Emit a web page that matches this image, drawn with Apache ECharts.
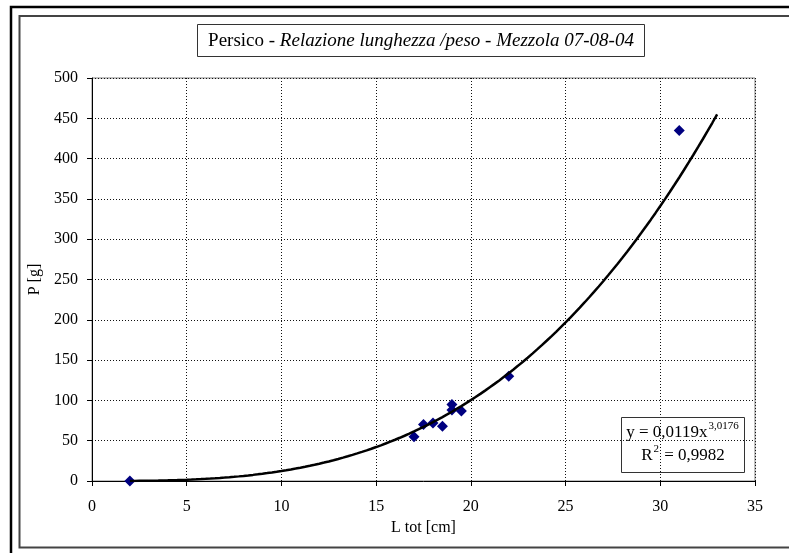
<!DOCTYPE html>
<html>
<head>
<meta charset="utf-8">
<script src="https://cdn.jsdelivr.net/npm/echarts@6/dist/echarts.min.js"></script>
<style>
  html, body { margin: 0; padding: 0; background: #fff; }
  #chart { width: 789px; height: 553px; }
</style>
</head>
<body>
<div id="chart"></div>
<script>
// Measured fish: total length (cm) and weight (g)
const lengths = [2, 17, 17.5, 18, 18.5, 19, 19, 19.5, 22, 31];
const weights = [0, 55, 70, 72, 68, 95, 88, 87, 130, 435];

// Power trend line y = a * x^b, as stated in the equation box
const trendCoef = [0.0119, 3.0176];
const trendRange = [2, 33];
const rSquared = '0,9982';

const xTicks = [0, 5, 10, 15, 20, 25, 30, 35];
const yTicks = [0, 50, 100, 150, 200, 250, 300, 350, 400, 450, 500];

const points = lengths.map((l, i) => [l, weights[i]]);
const trend = [];
for (let x = trendRange[0]; x <= trendRange[1] + 1e-9; x += 0.25) {
  trend.push([x, trendCoef[0] * Math.pow(x, trendCoef[1])]);
}
const fmt = v => String(v).replace('.', ',');

const serif = '"Liberation Serif", "DejaVu Serif", serif';
const dotted = { color: '#111', width: 1, type: [1, 2] };

const eqRich = {
  n: { fontFamily: serif, fontSize: 17, fill: '#000', lineHeight: 20, verticalAlign: 'bottom' },
  s: { fontFamily: serif, fontSize: 11, fill: '#000', lineHeight: 12, verticalAlign: 'top', padding: [0, 1, 0, 1] }
};

const chart = echarts.init(document.getElementById('chart'), null, { renderer: 'canvas' });
chart.setOption({
  animation: false,
  backgroundColor: '#fff',
  textStyle: { fontFamily: serif },
  grid: {
    left: 92, right: 34, top: 78, bottom: 72,
    show: true, borderColor: '#808080', borderWidth: 1, backgroundColor: 'transparent'
  },
  xAxis: {
    type: 'value', min: xTicks[0], max: xTicks[xTicks.length - 1], interval: 5,
    axisLine: { show: true, onZero: false, lineStyle: { color: '#000', width: 1 } },
    axisTick: { show: true, length: 5, lineStyle: { color: '#000' } },
    axisLabel: { color: '#000', fontFamily: serif, fontSize: 16, margin: 18 },
    splitLine: { show: true, lineStyle: dotted },
    name: 'L tot [cm]', nameLocation: 'middle', nameGap: 37,
    nameTextStyle: { color: '#000', fontFamily: serif, fontSize: 16 }
  },
  yAxis: {
    type: 'value', min: yTicks[0], max: yTicks[yTicks.length - 1], interval: 50,
    axisLine: { show: true, onZero: false, lineStyle: { color: '#000', width: 1 } },
    axisTick: { show: true, length: 5, lineStyle: { color: '#000' } },
    axisLabel: { color: '#000', fontFamily: serif, fontSize: 16, margin: 14 },
    splitLine: { show: true, lineStyle: dotted },
    name: 'P [g]', nameLocation: 'middle', nameGap: 47, nameRotate: 90,
    nameTextStyle: { color: '#000', fontFamily: serif, fontSize: 16 }
  },
  series: [
    {
      type: 'scatter', data: points, symbol: 'diamond', symbolSize: [11, 11],
      itemStyle: { color: '#000080', opacity: 1 }, z: 2
    },
    {
      type: 'line', data: trend, showSymbol: false, smooth: false,
      lineStyle: { color: '#000', width: 2.5 }, z: 3
    }
  ],
  graphic: [
    // outer chart frame
    { type: 'rect', shape: { x: 11, y: 7, width: 800, height: 560 },
      style: { fill: 'none', stroke: '#000', lineWidth: 2.5 }, silent: true, z: 0 },
    { type: 'rect', shape: { x: 19.5, y: 16, width: 800, height: 531.5 },
      style: { fill: 'none', stroke: '#444', lineWidth: 2 }, silent: true, z: 0 },
    // title box
    { type: 'rect', shape: { x: 197.5, y: 24.5, width: 447, height: 32 },
      style: { fill: '#fff', stroke: '#333', lineWidth: 1 }, z: 10 },
    { type: 'text', x: 421, y: 41, z: 11,
      style: {
        text: '{r|Persico - }{i|Relazione lunghezza /peso - Mezzola 07-08-04}',
        align: 'center', verticalAlign: 'middle',
        rich: {
          r: { fontFamily: serif, fontSize: 19, fill: '#000' },
          i: { fontFamily: serif, fontSize: 19, fontStyle: 'italic', fill: '#000' }
        }
      } },
    // trend equation box
    { type: 'rect', shape: { x: 621.5, y: 417.5, width: 123, height: 55 },
      style: { fill: 'none', stroke: '#333', lineWidth: 1 }, z: 10 },
    { type: 'text', x: 683, y: 431, z: 11,
      style: {
        text: '{n|y = ' + fmt(trendCoef[0]) + 'x}{s|' + fmt(trendCoef[1]) + '}',
        align: 'center', verticalAlign: 'middle', rich: eqRich
      } },
    { type: 'text', x: 683, y: 454, z: 11,
      style: {
        text: '{n|R}{s|2}{n| = ' + rSquared + '}',
        align: 'center', verticalAlign: 'middle', rich: eqRich
      } }
  ]
});
</script>
</body>
</html>
